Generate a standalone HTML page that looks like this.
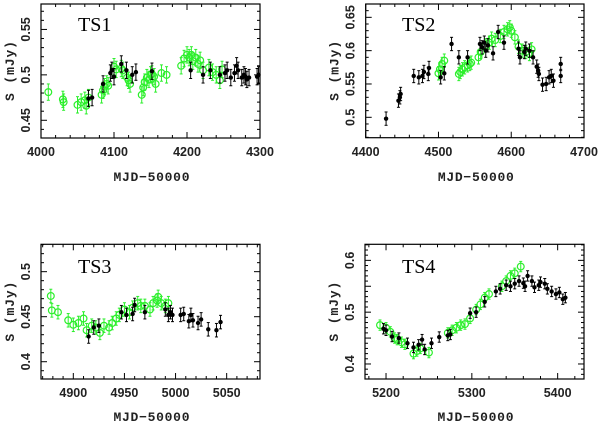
<!DOCTYPE html>
<html><head><meta charset="utf-8"><style>
body{margin:0;background:#fff;width:600px;height:424px;overflow:hidden}
svg{display:block}
</style></head><body>
<svg id="fig" width="600" height="424" viewBox="0 0 600 424" xmlns="http://www.w3.org/2000/svg"></svg>
<script>
const ts1GreenX=[4010,4030,4031,4050,4055,4060,4062,4065,4083,4085,4087,4090,4092,4100,4103,4110,4112,4118,4120,4122,4138,4140,4142,4145,4148,4150,4152,4155,4157,4165,4172,4192,4196,4200,4203,4206,4208,4212,4215,4218,4222,4230,4235,4240,4245,4248];
const ts1GreenY=[0.481,0.473,0.470,0.467,0.470,0.472,0.466,0.475,0.478,0.483,0.487,0.490,0.488,0.509,0.506,0.507,0.505,0.497,0.494,0.490,0.478,0.486,0.492,0.497,0.495,0.500,0.501,0.498,0.490,0.502,0.500,0.510,0.518,0.522,0.519,0.522,0.515,0.519,0.512,0.516,0.505,0.508,0.503,0.500,0.494,0.506];
const ts1BlackX=[4065,4070,4085,4095,4097,4100,4110,4117,4125,4130,4152,4205,4222,4232,4245,4252,4255,4260,4265,4268,4270,4275,4278,4280,4282,4285,4296,4298];
const ts1BlackY=[0.474,0.475,0.490,0.502,0.505,0.498,0.512,0.505,0.500,0.503,0.504,0.505,0.500,0.505,0.500,0.502,0.505,0.497,0.502,0.510,0.505,0.497,0.500,0.498,0.495,0.497,0.498,0.500];

const ts2GreenX=[4500,4502,4505,4508,4528,4530,4533,4536,4540,4543,4545,4555,4558,4565,4570,4573,4578,4585,4590,4595,4598,4600,4605,4610,4615,4620,4625,4628];
const ts2GreenY=[0.566,0.572,0.580,0.585,0.565,0.568,0.572,0.575,0.578,0.580,0.582,0.590,0.598,0.608,0.612,0.618,0.616,0.622,0.628,0.632,0.635,0.630,0.620,0.606,0.600,0.598,0.595,0.602];
const ts2BlackX=[4428,4445,4447,4448,4466,4473,4478,4480,4486,4487,4503,4508,4518,4528,4540,4557,4560,4563,4565,4568,4575,4582,4590,4610,4612,4618,4620,4625,4630,4635,4637,4638,4643,4648,4652,4655,4658,4668,4668];
const ts2BlackY=[0.498,0.525,0.530,0.535,0.562,0.560,0.562,0.568,0.565,0.574,0.560,0.566,0.610,0.590,0.590,0.610,0.605,0.612,0.600,0.608,0.596,0.628,0.612,0.603,0.590,0.598,0.603,0.600,0.590,0.576,0.570,0.565,0.549,0.550,0.560,0.562,0.555,0.562,0.580];

const ts3GreenX=[4878,4879,4885,4895,4900,4905,4910,4913,4918,4922,4926,4930,4935,4938,4942,4945,4950,4955,4958,4963,4966,4970,4975,4978,4982,4983,4986,4990,4993];
const ts3GreenY=[0.473,0.457,0.455,0.446,0.441,0.443,0.448,0.435,0.440,0.438,0.432,0.440,0.438,0.443,0.448,0.452,0.458,0.455,0.460,0.465,0.462,0.462,0.458,0.465,0.468,0.472,0.465,0.462,0.465];
const ts3BlackX=[4915,4920,4925,4947,4952,4958,4960,4970,4990,4993,4995,4997,5005,5008,5013,5015,5017,5022,5025,5032,5040,5044];
const ts3BlackY=[0.428,0.438,0.440,0.455,0.452,0.453,0.463,0.455,0.458,0.452,0.455,0.452,0.452,0.453,0.445,0.452,0.446,0.443,0.447,0.436,0.435,0.444];

const ts4GreenX=[5193,5200,5205,5210,5213,5218,5222,5232,5236,5240,5250,5272,5277,5282,5287,5292,5298,5305,5310,5315,5320,5335,5340,5345,5350,5357];
const ts4GreenY=[0.475,0.470,0.462,0.450,0.447,0.442,0.438,0.420,0.425,0.430,0.422,0.460,0.465,0.470,0.475,0.477,0.488,0.505,0.515,0.528,0.535,0.550,0.560,0.570,0.575,0.588];
const ts4BlackX=[5197,5200,5207,5215,5225,5232,5238,5242,5245,5253,5262,5272,5275,5298,5305,5315,5328,5333,5340,5345,5350,5355,5360,5362,5365,5370,5373,5378,5380,5385,5388,5393,5398,5402,5406,5409];
const ts4BlackY=[0.468,0.465,0.453,0.450,0.440,0.432,0.437,0.447,0.428,0.440,0.452,0.455,0.457,0.498,0.500,0.520,0.540,0.545,0.552,0.550,0.555,0.560,0.556,0.550,0.570,0.560,0.548,0.552,0.558,0.555,0.545,0.540,0.535,0.538,0.525,0.528];

const NS='http://www.w3.org/2000/svg';
const svg=document.getElementById('fig');
function mk(tag,attrs,parent){const e=document.createElementNS(NS,tag);for(const k in attrs)e.setAttribute(k,attrs[k]);(parent||svg).appendChild(e);return e;}
const GREEN='#2bef2b';

const panels=[
 {id:'ts1',title:'TS1',x0:41,x1:260,y0:4,y1:138,xmin:4000,xmax:4300,ymin:0.4305,ymax:0.578,xMaj:100,xMin:20,yMaj:0.05,yMin:0.01,yLab:[0.45,0.5,0.55],xLabels:[4000,4100,4200,4300],gx:ts1GreenX,gy:ts1GreenY,bx:ts1BlackX,by:ts1BlackY,err:0.009,tx:78,ty:31,xlY:152,xtY:181},
 {id:'ts2',title:'TS2',x0:365.7,x1:584,y0:4,y1:137.7,xmin:4400,xmax:4700,ymin:0.4694,ymax:0.67,xMaj:100,xMin:20,yMaj:0.05,yMin:0.01,yLab:[0.5,0.55,0.6,0.65],xLabels:[4400,4500,4600,4700],gx:ts2GreenX,gy:ts2GreenY,bx:ts2BlackX,by:ts2BlackY,err:0.01,tx:402,ty:31,xlY:152,xtY:181},
 {id:'ts3',title:'TS3',x0:41,x1:260,y0:244.3,y1:379,xmin:4868.4,xmax:5082.6,ymin:0.3808,ymax:0.5304,xMaj:50,xMin:10,yMaj:0.05,yMin:0.01,yLab:[0.4,0.45,0.5],xLabels:[4900,4950,5000,5050],gx:ts3GreenX,gy:ts3GreenY,bx:ts3BlackX,by:ts3BlackY,err:0.0075,tx:78,ty:273,xlY:393,xtY:421},
 {id:'ts4',title:'TS4',x0:365,x1:584,y0:244.3,y1:379,xmin:5175.5,xmax:5430.7,ymin:0.371,ymax:0.631,xMaj:100,xMin:20,yMaj:0.05,yMin:0.01,yLab:[0.4,0.5,0.6],xLabels:[5200,5300,5400],gx:ts4GreenX,gy:ts4GreenY,bx:ts4BlackX,by:ts4BlackY,err:0.01,tx:402,ty:273,xlY:393,xtY:421}
];

panels.forEach(p=>{
 const g=mk('g',{});
 
 
 const sx=v=>p.x0+(v-p.xmin)/(p.xmax-p.xmin)*(p.x1-p.x0);
 const sy=v=>p.y1-(v-p.ymin)/(p.ymax-p.ymin)*(p.y1-p.y0);
 const gg=mk('g',{},g);
 
 
 p.gx.forEach((x,i)=>{
  const cx=sx(x),cy=sy(p.gy[i]),e=(p.y1-p.y0)*p.err/(p.ymax-p.ymin);
  mk('line',{x1:cx,x2:cx,y1:cy-e,y2:cy+e,stroke:GREEN,'stroke-width':1},gg);
  mk('line',{x1:cx-1.5,x2:cx+1.5,y1:cy-e,y2:cy-e,stroke:GREEN,'stroke-width':1},gg);
  mk('line',{x1:cx-1.5,x2:cx+1.5,y1:cy+e,y2:cy+e,stroke:GREEN,'stroke-width':1},gg);
  const c=mk('circle',{cx:cx,cy:cy,r:3.4,fill:'none',stroke:GREEN,'stroke-width':1.2},gg);
  
  
 });
 const bg=mk('g',{},g);
 
 
 p.bx.forEach((x,i)=>{
  const cx=sx(x),cy=sy(p.by[i]),e=(p.y1-p.y0)*p.err/(p.ymax-p.ymin);
  mk('line',{x1:cx,x2:cx,y1:cy-e,y2:cy+e,stroke:'#000','stroke-width':1},bg);
  mk('line',{x1:cx-1.5,x2:cx+1.5,y1:cy-e,y2:cy-e,stroke:'#000','stroke-width':1},bg);
  mk('line',{x1:cx-1.5,x2:cx+1.5,y1:cy+e,y2:cy+e,stroke:'#000','stroke-width':1},bg);
  const c=mk('circle',{cx:cx,cy:cy,r:2.2,fill:'#000'},bg);
  
  
 });
 const fr=mk('rect',{x:p.x0,y:p.y0,width:p.x1-p.x0,height:p.y1-p.y0,fill:'none',stroke:'#000','stroke-width':1.2},g);
 
 
 const tk=mk('g',{stroke:'#000','stroke-width':1},g);
 
 
 const xs=Math.ceil(p.xmin/p.xMin)*p.xMin;
 for(let v=xs;v<=p.xmax+1e-6;v+=p.xMin){
  const maj=Math.abs(v/p.xMaj-Math.round(v/p.xMaj))<1e-6, L=maj?6:3, x=sx(v);
  mk('line',{x1:x,x2:x,y1:p.y1,y2:p.y1-L},tk);
  mk('line',{x1:x,x2:x,y1:p.y0,y2:p.y0+L},tk);
 }
 const ys=Math.ceil(p.ymin/p.yMin-1e-6);
 for(let k=ys;k*p.yMin<=p.ymax+1e-9;k++){
  const v=k*p.yMin, r=v/p.yMaj, maj=Math.abs(r-Math.round(r))<1e-6, L=maj?6:3, y=sy(v);
  mk('line',{x1:p.x0,x2:p.x0+L,y1:y,y2:y},tk);
  mk('line',{x1:p.x1,x2:p.x1-L,y1:y,y2:y},tk);
 }
 p.xLabels.forEach(v=>{
  const t=mk('text',{x:sx(v),y:p.xlY+4,'text-anchor':'middle','font-family':'"Liberation Sans",sans-serif','font-size':12.5,'font-weight':'bold',fill:'#222'},g);
  t.textContent=v;
  
  
 });
 p.yLab.forEach(v=>{
  const y=sy(v), x=p.x0-11;
  const t=mk('text',{x:x,y:y,transform:`rotate(-90 ${x} ${y})`,'text-anchor':'middle','font-family':'"Liberation Sans",sans-serif','font-size':12.5,'font-weight':'bold',fill:'#222'},g);
  t.textContent=String(v);
  
  
 });
 const xc=(p.x0+p.x1)/2;
 const xt=mk('text',{x:xc+1,y:p.xtY,'text-anchor':'middle','font-family':'"Liberation Mono",monospace','font-size':13,'font-weight':'bold',textLength:76,fill:'#222'},g);
 xt.textContent='MJD\u221250000';
 
 
 const yx=p.x0-27, yc=(p.y0+p.y1)/2;
 const yt=mk('text',{x:yx,y:yc,transform:`rotate(-90 ${yx} ${yc})`,'text-anchor':'middle','font-family':'"Liberation Mono",monospace','font-size':13,'font-weight':'bold',textLength:60,fill:'#222'},g);
 yt.textContent='S (mJy)';
 
 
 const tt=mk('text',{x:p.tx,y:p.ty,'font-family':'"Liberation Serif",serif','font-size':20,fill:'#000'},g);
 tt.textContent=p.title;
 
 
});
</script>
</body></html>
